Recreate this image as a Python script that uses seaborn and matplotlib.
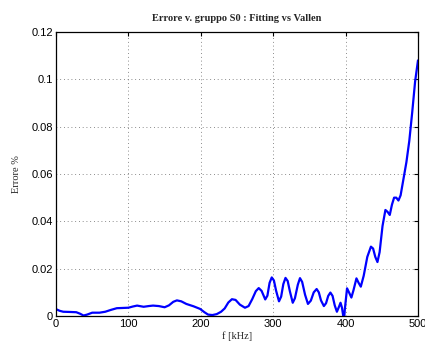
import matplotlib
matplotlib.use("Agg")
import matplotlib.pyplot as plt
import seaborn as sns
import pandas as pd

freq_khz = [0, 5, 10, 20, 28, 33, 38, 43, 50, 60, 68, 76, 84, 92, 100, 106, 112, 121, 128, 134,
            142, 150, 156, 162, 167, 173, 180, 190, 199, 205, 210, 216, 222, 228, 233, 238, 243,
            248, 254, 261, 266, 271, 276, 280, 284, 289, 292, 295, 298, 301, 304, 308, 311, 314,
            317, 320, 323, 327, 330, 334, 337, 340, 344, 348, 352, 356, 360, 363, 366, 370, 373,
            376, 379, 382, 385, 388, 391, 393, 395, 397, 398, 399, 402, 405, 408, 411, 415, 418,
            421, 425, 430, 435, 438, 441, 444, 447, 451, 455, 458, 461, 464, 467, 470, 473, 476,
            480, 484, 488, 492, 496, 500]
errore = [0.0029, 0.0022, 0.0018, 0.0017, 0.0016, 0.0010, 0.0002, 0.0006, 0.0014, 0.0014,
          0.0018, 0.0026, 0.0033, 0.0034, 0.0035, 0.0040, 0.0044, 0.0039, 0.0042, 0.0044,
          0.0042, 0.0037, 0.0045, 0.0060, 0.0066, 0.0062, 0.0051, 0.0041, 0.0030, 0.0016,
          0.0006, 0.0004, 0.0008, 0.0018, 0.0032, 0.0057, 0.0071, 0.0068, 0.0048, 0.0035,
          0.0042, 0.0071, 0.0105, 0.0118, 0.0106, 0.0070, 0.0086, 0.0140, 0.0163, 0.0150,
          0.0107, 0.0062, 0.0082, 0.0135, 0.0161, 0.0148, 0.0105, 0.0056, 0.0075, 0.0132,
          0.0160, 0.0144, 0.0090, 0.0051, 0.0065, 0.0100, 0.0114, 0.0100, 0.0066, 0.0042,
          0.0054, 0.0085, 0.0099, 0.0085, 0.0045, 0.0018, 0.0040, 0.0056, 0.0035, -0.0005,
          -0.0010, 0.0030, 0.0117, 0.0098, 0.0078, 0.0110, 0.0159, 0.0140, 0.0124, 0.0170,
          0.0250, 0.0293, 0.0285, 0.0250, 0.0228, 0.0270, 0.0380, 0.0448, 0.0440, 0.0427,
          0.0470, 0.0500, 0.0500, 0.0488, 0.0510, 0.0580, 0.0650, 0.0740, 0.0860, 0.0990,
          0.1080]
x_ticks = [0, 100, 200, 300, 400, 500]
y_ticks = [0, 0.02, 0.04, 0.06, 0.08, 0.1, 0.12]
y_tick_labels = ["0", "0.02", "0.04", "0.06", "0.08", "0.1", "0.12"]

df = pd.DataFrame({"f": freq_khz, "err": errore})

sns.set_style("white")
plt.rcParams["font.family"] = ["Liberation Sans", "DejaVu Sans"]

fig = plt.figure(figsize=(4.25, 3.43), dpi=100)
ax = fig.add_axes([0.1318, 0.0787, 0.8517, 0.828])

sns.lineplot(data=df, x="f", y="err", ax=ax, color=(0, 0, 1), linewidth=1.6, sort=False)

ax.set_xlim(0, 500)
ax.set_ylim(0, 0.12)
ax.set_xticks(x_ticks)
ax.set_yticks(y_ticks)
ax.set_yticklabels(y_tick_labels)
ax.grid(True, linestyle=(0, (1, 3.5)), color="#666666", linewidth=0.6)
ax.tick_params(direction="in", length=3, width=0.8, top=True, right=True,
               labelsize=8, colors="black", pad=2)
for s in ax.spines.values():
    s.set_color("black")
    s.set_linewidth(0.9)
    s.set_visible(True)

ax.set_title("Errore v. gruppo S0 : Fitting vs Vallen", fontsize=7.5,
             fontweight="bold", family="Liberation Serif", pad=8)
ax.set_xlabel("f [kHz]", fontsize=7.5, family="Liberation Serif", labelpad=2)
ax.set_ylabel("Errore %", fontsize=7.5, family="Liberation Serif", labelpad=8)

fig.savefig("out.png", dpi=100, facecolor="white")
